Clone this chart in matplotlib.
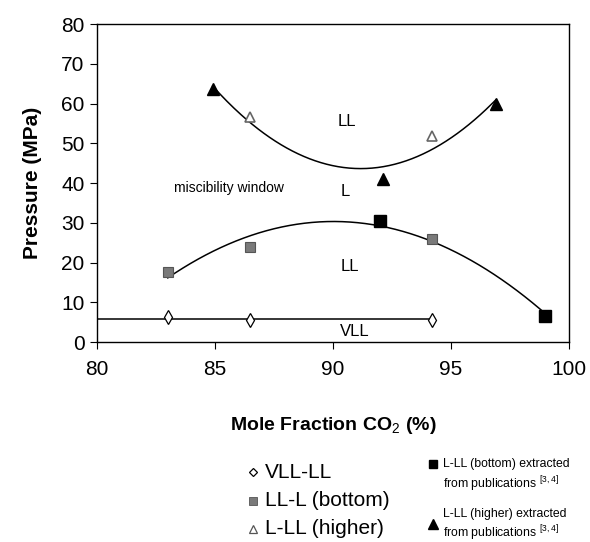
import numpy as np
import matplotlib.pyplot as plt
from matplotlib.lines import Line2D

plt.rcParams['font.family'] = ['Liberation Sans', 'DejaVu Sans']
plt.rcParams['mathtext.fontset'] = 'custom'
plt.rcParams['mathtext.rm'] = 'Liberation Sans'
plt.rcParams['mathtext.bf'] = 'Liberation Sans:bold'

# Daten
vll_x = [83.0, 86.5, 94.2]
vll_p = [6.2, 5.6, 5.6]

bottom_x = [83.0, 86.5, 94.2]
bottom_p = [17.5, 24.0, 26.0]
bottom_pub_x = [92.0, 99.0]
bottom_pub_p = [30.5, 6.5]

higher_x = [86.5, 94.2]
higher_p = [56.5, 51.8]
higher_pub_x = [84.9, 92.1, 96.9]
higher_pub_p = [63.7, 41.0, 60.0]

# Trendlinien (Polynom 2. Ordnung)
bx = np.array(bottom_x + bottom_pub_x)
bp = np.array(bottom_p + bottom_pub_p)
hx = np.array(higher_x + higher_pub_x)
hp = np.array(higher_p + higher_pub_p)
cb = np.polyfit(bx, bp, 2)
ch = np.polyfit(hx, hp, 2)
cv = np.polyfit(vll_x, vll_p, 0)

fig = plt.figure(figsize=(5.9, 5.42), dpi=100)
ax = fig.add_axes([0.1644, 0.369, 0.8, 0.5867])

xs = np.linspace(bx.min(), bx.max(), 200)
ax.plot(xs, np.polyval(cb, xs), color='black', lw=1.1, zorder=2)
xs = np.linspace(hx.min(), hx.max(), 200)
ax.plot(xs, np.polyval(ch, xs), color='black', lw=1.1, zorder=2)
xs = np.linspace(80, max(vll_x), 50)
ax.plot(xs, np.polyval(cv, xs), color='black', lw=1.1, zorder=2)

ax.plot(vll_x, vll_p, 'd', ms=7.5, mfc='white', mec='black', mew=0.9, ls='none', zorder=3)
ax.plot(bottom_x, bottom_p, 's', ms=7, mfc='#7a7a7a', mec='#555555', mew=0.8, ls='none', zorder=3)
ax.plot(bottom_pub_x, bottom_pub_p, 's', ms=8, mfc='black', mec='black', ls='none', zorder=3)
ax.plot(higher_x, higher_p, '^', ms=7, mfc='white', mec='#666666', mew=1.2, ls='none', zorder=3)
ax.plot(higher_pub_x, higher_pub_p, '^', ms=8, mfc='black', mec='black', ls='none', zorder=3)

ax.text(90.6, 55.4, 'LL', fontsize=12, ha='center', va='center')
ax.text(90.5, 37.8, 'L', fontsize=12, ha='center', va='center')
ax.text(90.7, 18.9, 'LL', fontsize=12, ha='center', va='center')
ax.text(90.9, 2.6, 'VLL', fontsize=12, ha='center', va='center')
ax.text(85.6, 38.7, 'miscibility window', fontsize=10, ha='center', va='center')

ax.set_xlim(80, 100)
ax.set_ylim(0, 80)
ax.set_xticks(range(80, 101, 5))
ax.set_yticks(range(0, 81, 10))
ax.tick_params(labelsize=15, length=5, direction='out', pad=4)
ax.tick_params(axis='x', pad=8)
ax.set_ylabel('Pressure (MPa)', fontsize=15, fontweight='bold', labelpad=14)
ax.set_xlabel(r'Mole Fraction CO$_2$ (%)', fontsize=14, fontweight='bold', labelpad=26)
for s in ax.spines.values():
    s.set_linewidth(1.0)

# Legende
def lmark(x, y, **kw):
    fig.add_artist(Line2D([x / 590], [1 - y / 542], transform=fig.transFigure, ls='none', **kw))

def ltext(x, y, s, size):
    fig.text(x / 590, 1 - y / 542, s, fontsize=size, va='center')

lmark(253, 472, marker='D', ms=4.5, mfc='white', mec='black', mew=0.9)
lmark(253, 501, marker='s', ms=6, mfc='#7a7a7a', mec='#555555', mew=0.6)
lmark(253, 529, marker='^', ms=5.5, mfc='white', mec='#555555', mew=0.9)
ltext(265, 472, 'VLL-LL', 15)
ltext(265, 501, 'LL-L (bottom)', 15)
ltext(265, 529, 'L-LL (higher)', 15)

lmark(433, 464, marker='s', ms=5.5, mfc='black', mec='black')
lmark(433, 524, marker='^', ms=6.5, mfc='black', mec='black')
ltext(443, 464, 'L-LL (bottom) extracted', 8.8)
ltext(443, 484, r'from publications $^{[3,4]}$', 8.8)
ltext(443, 514, 'L-LL (higher) extracted', 8.8)
ltext(443, 533, r'from publications $^{[3,4]}$', 8.8)

fig.savefig('out.png', dpi=100)
